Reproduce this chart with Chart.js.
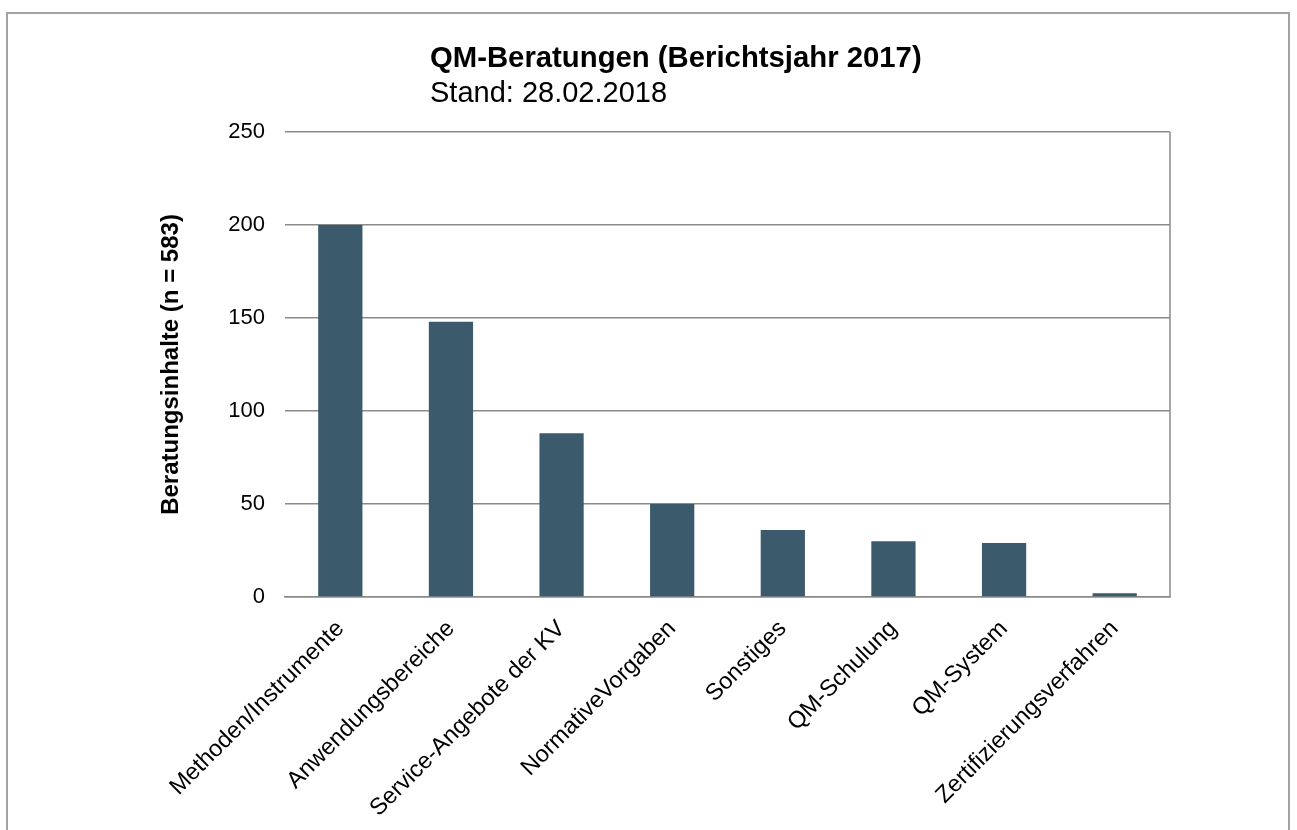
<!DOCTYPE html>
<html>
<head>
<meta charset="utf-8">
<script src="https://cdn.jsdelivr.net/npm/chart.js@4/dist/chart.umd.min.js"></script>
<style>
  html, body { margin: 0; padding: 0; background: #fff; overflow: hidden; }
  #wrap { position: relative; width: 1297px; height: 830px; }
  #frame { position: absolute; left: 6px; top: 12px; width: 1284px; height: 900px; border: 2px solid #a3a3a3; box-sizing: border-box; }
  #c { position: absolute; left: 0; top: 0; }
  .t { position: absolute; left: 430px; font-family: "Liberation Sans", Arial, sans-serif; color: #000; white-space: nowrap; line-height: 1; }
  #title { top: 42px; font-size: 29.3px; font-weight: bold; }
  #sub { top: 78px; font-size: 29px; }
</style>
</head>
<body>
<div id="wrap">
  <div id="frame"></div>
  <canvas id="c" width="1297" height="830"></canvas>
  <div class="t" id="title">QM-Beratungen (Berichtsjahr 2017)</div>
  <div class="t" id="sub">Stand: 28.02.2018</div>
</div>
<script>
const categories = [
  "Methoden/Instrumente",
  "Anwendungsbereiche",
  "Service-Angebote der KV",
  "NormativeVorgaben",
  "Sonstiges",
  "QM-Schulung",
  "QM-System",
  "Zertifizierungsverfahren"
];
const values = [200, 148, 88, 50, 36, 30, 29, 2];
const yTicks = [0, 50, 100, 150, 200, 250];
const yTitle = "Beratungsinhalte (n = 583)";

const FONT = '"Liberation Sans", Arial, sans-serif';
const GRID = '#8a8a8a';

const rightBorder = {
  id: 'rightBorder',
  afterDatasetsDraw(chart) {
    const {ctx, chartArea} = chart;
    ctx.save();
    ctx.strokeStyle = GRID;
    ctx.lineWidth = 1.5;
    ctx.beginPath();
    ctx.moveTo(chartArea.right, chartArea.top);
    ctx.lineTo(chartArea.right, chartArea.bottom);
    ctx.stroke();
    ctx.restore();
  }
};

new Chart(document.getElementById('c'), {
  type: 'bar',
  data: {
    labels: categories,
    datasets: [{
      data: values,
      backgroundColor: '#3b5b6c',
      borderWidth: 0,
      barPercentage: 1,
      categoryPercentage: 0.4
    }]
  },
  options: {
    responsive: false,
    animation: false,
    layout: { padding: { left: 0, top: 132, right: 127, bottom: 0 } },
    plugins: { legend: { display: false }, tooltip: { enabled: false }, title: { display: false } },
    scales: {
      x: {
        grid: { display: false, drawTicks: false },
        border: { display: true, color: GRID, width: 1.5 },
        ticks: {
          autoSkip: false, minRotation: 45, maxRotation: 45, padding: 18,
          color: '#000', font: { family: FONT, size: 23.5 }
        },
        afterFit: s => { s.height = 233; }
      },
      y: {
        min: 0, max: 250,
        afterBuildTicks: s => { s.ticks = yTicks.map(v => ({ value: v })); },
        grid: { color: GRID, lineWidth: 1.5, drawTicks: false },
        border: { display: false },
        ticks: { padding: 20, color: '#000', font: { family: FONT, size: 22 } },
        title: {
          display: true, text: yTitle, color: '#000',
          font: { family: FONT, size: 24, weight: 'bold' },
          padding: { top: 157, bottom: 0 }
        },
        afterFit: s => { s.width = 285; }
      }
    }
  },
  plugins: [rightBorder]
});
</script>
</body>
</html>
